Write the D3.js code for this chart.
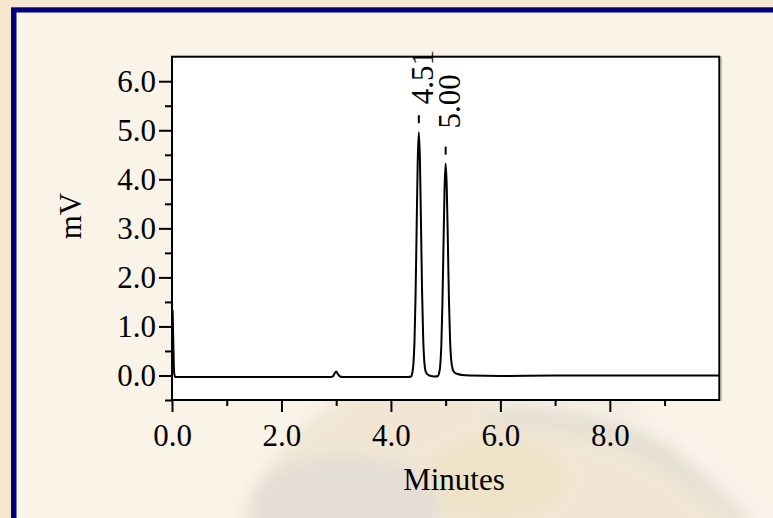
<!DOCTYPE html>
<html>
<head>
<meta charset="utf-8">
<script src="https://cdn.jsdelivr.net/npm/d3@7"></script>
<style>
  html, body { margin: 0; padding: 0; background: #f8e7d0; }
  svg { display: block; }
  text { font-family: "Liberation Serif", "Times New Roman", serif; fill: #000; }
</style>
</head>
<body>
<svg id="chart" width="773" height="518"></svg>
<script>
// Detector trace: retention time (min) and signal (mV)
const traceTime = [0, 0.01, 0.025, 0.04, 0.06, 0.1, 0.5, 1.0, 1.5, 2.0, 2.5, 2.9, 2.94, 2.97, 3.0, 3.03, 3.07, 3.12, 3.5, 4.0, 4.3,
  4.37, 4.39, 4.41, 4.43, 4.45, 4.47, 4.49, 4.51, 4.53, 4.55, 4.57, 4.59, 4.61, 4.63, 4.66, 4.70, 4.80,
  4.86, 4.88, 4.90, 4.92, 4.94, 4.96, 4.98, 5.00, 5.02, 5.04, 5.06, 5.08, 5.10, 5.13, 5.17, 5.22, 5.30, 5.45, 6.0, 7.0, 8.0, 9.0, 10.0];
const traceMV = [1.35, 1.32, 0.60, 0.05, -0.03, -0.03, -0.03, -0.03, -0.03, -0.03, -0.03, -0.03, -0.02, 0.04, 0.08, 0.03, -0.02, -0.03, -0.03, -0.03, -0.03,
  -0.02, 0.05, 0.22, 0.67, 1.61, 3.01, 4.38, 4.96, 4.40, 3.05, 1.68, 0.74, 0.28, 0.10, 0.03, 0.0, -0.02,
  -0.01, 0.05, 0.19, 0.58, 1.41, 2.62, 3.81, 4.32, 3.85, 2.75, 1.55, 0.75, 0.33, 0.12, 0.05, 0.03, 0.01, 0.0, -0.01, 0.0, 0.0, 0.0, 0.0];

// Labelled peaks
const peakTimes = [4.51, 5.00];
const peakHeights = [4.96, 4.32];
const peakLabels = ["4.51", "5.00"];

// Axis ticks
const xMajorTicks = [0, 2, 4, 6, 8];
const xMinorTicks = [1, 3, 5, 7, 9];
const xTickLabels = ["0.0", "2.0", "4.0", "6.0", "8.0"];
const yMajorTicks = [0, 1, 2, 3, 4, 5, 6];
const yMinorTicks = [-0.5, 0.5, 1.5, 2.5, 3.5, 4.5, 5.5];
const yTickLabels = ["0.0", "1.0", "2.0", "3.0", "4.0", "5.0", "6.0"];

const xTitle = "Minutes";
const yTitle = "mV";

const svg = d3.select("#chart");
const W = 773, H = 518;
const FONT = 31;

// Page frame: navy rule along the top and left, pale paper inside
const inner = { x: 16.5, y: 12.5 };
svg.append("rect").attr("x", 0).attr("y", 0).attr("width", W).attr("height", H).attr("fill", "#f8e7d0");
svg.append("rect").attr("x", 11).attr("y", 7.3).attr("width", W - 11).attr("height", H - 7.3).attr("fill", "#00007f");
svg.append("rect").attr("x", inner.x).attr("y", inner.y).attr("width", W - inner.x).attr("height", H - inner.y).attr("fill", "#faf3e8");

// Faded globe watermark behind the plot
const defs = svg.append("defs");
defs.append("clipPath").attr("id", "paper")
  .append("rect").attr("x", inner.x).attr("y", inner.y).attr("width", W - inner.x).attr("height", H - inner.y);
const blur = defs.append("filter").attr("id", "soft").attr("x", "-20%").attr("y", "-20%").attr("width", "140%").attr("height", "140%");
blur.append("feGaussianBlur").attr("stdDeviation", 8);

const globe = svg.append("g").attr("clip-path", "url(#paper)").append("g").attr("filter", "url(#soft)");
globe.append("circle").attr("cx", 480).attr("cy", 610).attr("r", 255).attr("fill", "#ece1cc").attr("opacity", 0.7);
globe.append("ellipse").attr("cx", 345).attr("cy", 505).attr("rx", 95).attr("ry", 50).attr("fill", "#e0d9d8").attr("opacity", 0.6);
globe.append("ellipse").attr("cx", 495).attr("cy", 478).attr("rx", 70).attr("ry", 40).attr("fill", "#e9d9b0").attr("opacity", 0.35);

// Ring of the globe stand, visible on the right
const ringArc = (r) => d3.arc()({ innerRadius: r, outerRadius: r, startAngle: -0.1, endAngle: 1.3 });
globe.append("path").attr("transform", "translate(520,700)").attr("d", ringArc(282))
  .attr("fill", "none").attr("stroke", "#e4ddd2").attr("stroke-width", 22).attr("opacity", 0.8);
globe.append("path").attr("transform", "translate(520,700)").attr("d", ringArc(302))
  .attr("fill", "none").attr("stroke", "#f8f4ee").attr("stroke-width", 12).attr("opacity", 0.9);

// Plot area
const plot = { left: 172, top: 56.7, right: 719.3, bottom: 400 };
const x = d3.scaleLinear().domain([0, 10]).range([plot.left, plot.right]);
const y = d3.scaleLinear().domain([-0.5, 6.5]).range([plot.bottom, plot.top]);

// Soft shadow on the right of the plot box
svg.append("line").attr("x1", plot.right + 2).attr("x2", plot.right + 2)
  .attr("y1", plot.top).attr("y2", plot.bottom + 1).attr("stroke", "#b8b4ae").attr("stroke-width", 1);

svg.append("rect").attr("x", plot.left).attr("y", plot.top)
  .attr("width", plot.right - plot.left).attr("height", plot.bottom - plot.top)
  .attr("fill", "#fff");

defs.append("clipPath").attr("id", "plotClip")
  .append("rect").attr("x", plot.left).attr("y", plot.top)
  .attr("width", plot.right - plot.left).attr("height", plot.bottom - plot.top);

// Chromatogram trace
const points = traceTime.map((t, i) => [t, traceMV[i]]);
const line = d3.line().x(d => x(d[0])).y(d => y(d[1])).curve(d3.curveMonotoneX);
svg.append("path").attr("clip-path", "url(#plotClip)")
  .attr("d", line(points)).attr("fill", "none").attr("stroke", "#000")
  .attr("stroke-width", 2).attr("stroke-linejoin", "round");

// Plot border
svg.append("rect").attr("x", plot.left).attr("y", plot.top)
  .attr("width", plot.right - plot.left).attr("height", plot.bottom - plot.top)
  .attr("fill", "none").attr("stroke", "#000").attr("stroke-width", 2);

// X axis
const xAxis = d3.axisBottom(x).tickValues(xMajorTicks).tickSize(12).tickPadding(12)
  .tickFormat((d, i) => xTickLabels[i]);
const gx = svg.append("g").attr("transform", `translate(0,${plot.bottom})`).call(xAxis);
gx.select(".domain").remove();
gx.selectAll(".tick line").attr("stroke", "#000").attr("stroke-width", 2);
gx.selectAll(".tick text").attr("font-size", FONT).attr("font-family", "Liberation Serif");
const xMinor = d3.axisBottom(x).tickValues(xMinorTicks).tickSize(6).tickFormat("");
const gxm = svg.append("g").attr("transform", `translate(0,${plot.bottom})`).call(xMinor);
gxm.select(".domain").remove();
gxm.selectAll(".tick line").attr("stroke", "#000").attr("stroke-width", 2);

// Y axis
const yAxis = d3.axisLeft(y).tickValues(yMajorTicks).tickSize(13).tickPadding(3)
  .tickFormat((d, i) => yTickLabels[i]);
const gy = svg.append("g").attr("transform", `translate(${plot.left},0)`).call(yAxis);
gy.select(".domain").remove();
gy.selectAll(".tick line").attr("stroke", "#000").attr("stroke-width", 2);
gy.selectAll(".tick text").attr("font-size", FONT).attr("font-family", "Liberation Serif");
const yMinor = d3.axisLeft(y).tickValues(yMinorTicks).tickSize(7).tickFormat("");
const gym = svg.append("g").attr("transform", `translate(${plot.left},0)`).call(yMinor);
gym.select(".domain").remove();
gym.selectAll(".tick line").attr("stroke", "#000").attr("stroke-width", 2);

// Axis titles
svg.append("text").attr("x", 454).attr("y", 490).attr("text-anchor", "middle")
  .attr("font-size", FONT).text(xTitle);
svg.append("text").attr("transform", "translate(81,216) rotate(-90)").attr("text-anchor", "middle")
  .attr("font-size", FONT).text(yTitle);

// Peak retention-time labels: a short tick above the apex, then the rotated time.
// The second label sits a little higher to clear the first.
const labelLift = [28, 35];
peakTimes.forEach((t, i) => {
  const px = x(t), py = y(peakHeights[i]);
  svg.append("line").attr("x1", px).attr("x2", px)
    .attr("y1", py - 9).attr("y2", py - 17).attr("stroke", "#000").attr("stroke-width", 2);
  svg.append("text").attr("transform", `translate(${px + 14},${py - labelLift[i]}) rotate(-90)`)
    .attr("font-size", FONT).text(peakLabels[i]);
});
</script>
</body>
</html>
